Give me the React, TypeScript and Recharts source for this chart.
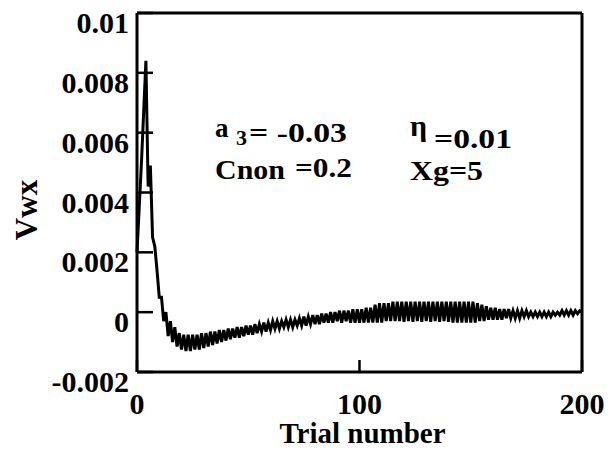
import React from 'react';
import { LineChart, Line, XAxis, YAxis, ReferenceLine } from 'recharts';

// Vwx in units of 1e-4, one value per trial (0..200)
const vwx: number[] = [
  20, 35, 50, 67, 84, 42, 49, 25, 22, 14,
  5, 5, -3, 0, -8, -3, -10, -5, -11.5, -7,
  -12.5, -7.5, -13, -7.5, -13, -7.5, -12.5, -7.5, -12.5, -7,
  -12, -7, -11.5, -6.5, -11, -6.5, -10.5, -6, -10, -6,
  -9.5, -5.5, -9, -5.5, -8.5, -5, -8.5, -5, -8, -4.5,
  -7.5, -4.5, -7.5, -4, -7, -4, -6.5, -3.5, -6.5, -3.5,
  -6, -3, -5.5, -3, -5.5, -3, -5, -2.5, -5, -2.5,
  -5, -2.5, -4.5, -2, -4.5, -1.5, -4.5, -1.5, -4, -1,
  -4, -1, -4, -0.5, -3.5, -0.5, -3.5, 0, -3.5, 0,
  -3, 0.5, -3.5, 0.5, -3, 0.5, -3.5, 1, -3.5, 1,
  -3.5, 1, -3.5, 1.5, -3.5, 1.5, -3.5, 2.5, -3.5, 3,
  -3.5, 3, -3, 3, -3, 3.5, -3, 3.5, -3, 3.5,
  -3.2, 3.5, -3, 3.5, -3.2, 3.5, -3, 3.5, -3.2, 3.5,
  -3, 3.5, -3.2, 3.5, -3, 3.5, -3.2, 3.5, -3, 3.5,
  -3.2, 3.5, -3.5, 3.5, -3.5, 3.5, -3.5, 3.5, -3.5, 3.5,
  -3.5, 3.5, -3.5, 3, -3, 2.5, -3, 2, -2.5, 1.5,
  -2.5, 1.5, -2.5, 1, -2.5, 1, -2, 1, -2, 0.5,
  -2, 0.5, -2, 0.5, -1.5, 0.5, -1.5, 0, -1.5, 0,
  -1.5, 0, -1.5, 0, -1.5, 0, -1.5, 0, -1, 0,
  -1, 0.5, -1, 0.5, -1, 0.5, -1, 0.5, -0.5, 0.5,
  0,
];

const xTicks = [0, 100, 200];
const yTicks = [-20, 0, 20, 40, 60, 80, 100];
const yTickLabels = ['-0.002', '0', '0.002', '0.004', '0.006', '0.008', '0.01'];

const data = vwx.map((v, i) => ({ trial: i, vwx: v }));

const FONT = 'Liberation Serif, DejaVu Serif, Times New Roman, serif';
const txt = { style: { fontFamily: FONT, fontWeight: 700 }, fill: '#000' };

function YTick(props: any) {
  const { x, y, payload } = props;
  const label = yTickLabels[yTicks.indexOf(payload.value)];
  return (
    <g>
      <line x1={x} x2={x + 16} y1={y} y2={y} stroke="#000" strokeWidth={2.5} />
      <text x={x - 8} y={y + 20} textAnchor="end" fontSize={30} {...txt}>
        {label}
      </text>
    </g>
  );
}

function XTick(props: any) {
  const { x, y, payload } = props;
  return (
    <g>
      <line x1={x} x2={x} y1={y} y2={y - 12} stroke="#000" strokeWidth={2.5} />
      <text x={x} y={y + 42} textAnchor="middle" fontSize={30} {...txt}>
        {payload.value}
      </text>
    </g>
  );
}

export default function App() {
  return (
    <div style={{ position: 'absolute', left: 0, top: 0, width: 615, height: 450, background: '#fff' }}>
      <LineChart width={615} height={450} data={data} margin={{ top: 13, right: 33, bottom: 0, left: 0 }}>
        <XAxis
          dataKey="trial"
          type="number"
          domain={[0, 200]}
          ticks={xTicks}
          height={78}
          tickSize={0}
          tickMargin={0}
          tickLine={false}
          axisLine={{ stroke: '#000', strokeWidth: 3 }}
          tick={<XTick />}
          label={{
            content: (p: any) => {
              const vb = p.viewBox;
              return (
                <text x={vb.x + vb.width / 2 + 3} y={vb.y + 71} textAnchor="middle" fontSize={29} {...txt}>
                  Trial number
                </text>
              );
            },
          }}
        />
        <YAxis
          type="number"
          domain={[-20, 100]}
          ticks={yTicks}
          width={137}
          tickSize={0}
          tickMargin={0}
          tickLine={false}
          axisLine={{ stroke: '#000', strokeWidth: 3 }}
          tick={<YTick />}
          label={{
            content: () => (
              <text x={37} y={210} transform="rotate(-90, 37, 210)" textAnchor="middle" fontSize={31} {...txt}>
                Vwx
              </text>
            ),
          }}
        />
        <ReferenceLine y={100} stroke="#000" strokeWidth={3} />
        <ReferenceLine x={200} stroke="#000" strokeWidth={3} />
        <Line
          type="linear"
          dataKey="vwx"
          stroke="#000"
          strokeWidth={3}
          dot={false}
          isAnimationActive={false}
        />
      </LineChart>
      <svg width={615} height={450} style={{ position: 'absolute', left: 0, top: 0, pointerEvents: 'none' }}>
        <text x={215} y={137} fontSize={27} {...txt}>a</text>
        <text x={236} y={145} fontSize={22} {...txt}>3</text>
        <text x={249} y={142} fontSize={27} textLength={98} lengthAdjust="spacingAndGlyphs" {...txt}>= -0.03</text>
        <text x={215} y={179} fontSize={28} textLength={70} lengthAdjust="spacingAndGlyphs" {...txt}>Cnon</text>
        <text x={295} y={177} fontSize={27} textLength={57} lengthAdjust="spacingAndGlyphs" {...txt}>=0.2</text>
        <text x={410} y={136} fontSize={30} {...txt}>η</text>
        <text x={434} y={148} fontSize={27} textLength={78} lengthAdjust="spacingAndGlyphs" {...txt}>=0.01</text>
        <text x={410} y={180} fontSize={27} textLength={73} lengthAdjust="spacingAndGlyphs" {...txt}>Xg=5</text>
      </svg>
    </div>
  );
}
